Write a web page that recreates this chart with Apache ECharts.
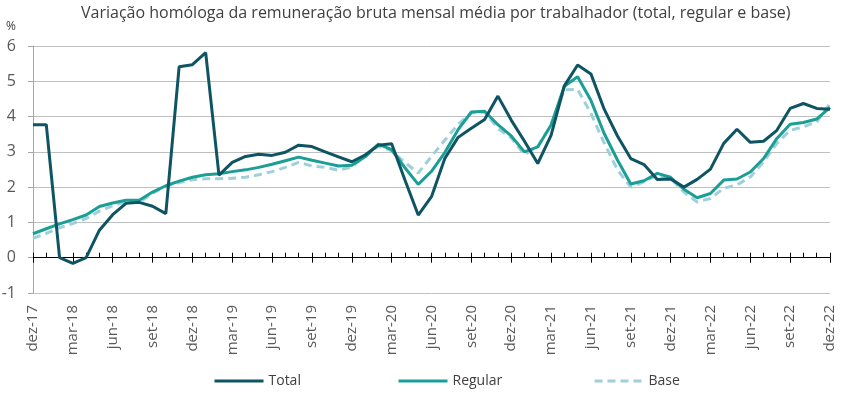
<!DOCTYPE html>
<html>
<head>
<meta charset="utf-8">
<script src="https://cdn.jsdelivr.net/npm/echarts@6/dist/echarts.min.js"></script>
<style>
  html, body { margin: 0; padding: 0; background: #fff; }
  #chart { width: 850px; height: 396px; }
</style>
</head>
<body>
<div id="chart"></div>
<script>
// months dez-17 .. dez-22
const categories = [
  'dez-17',
  'jan-18', 'fev-18', 'mar-18', 'abr-18', 'mai-18', 'jun-18', 'jul-18', 'ago-18', 'set-18', 'out-18', 'nov-18', 'dez-18',
  'jan-19', 'fev-19', 'mar-19', 'abr-19', 'mai-19', 'jun-19', 'jul-19', 'ago-19', 'set-19', 'out-19', 'nov-19', 'dez-19',
  'jan-20', 'fev-20', 'mar-20', 'abr-20', 'mai-20', 'jun-20', 'jul-20', 'ago-20', 'set-20', 'out-20', 'nov-20', 'dez-20',
  'jan-21', 'fev-21', 'mar-21', 'abr-21', 'mai-21', 'jun-21', 'jul-21', 'ago-21', 'set-21', 'out-21', 'nov-21', 'dez-21',
  'jan-22', 'fev-22', 'mar-22', 'abr-22', 'mai-22', 'jun-22', 'jul-22', 'ago-22', 'set-22', 'out-22', 'nov-22', 'dez-22'
];

const total = [
  3.77,
  3.77, 0.00, -0.16, 0.00, 0.78, 1.22, 1.54, 1.57, 1.46, 1.25, 5.41, 5.47,
  5.81, 2.34, 2.70, 2.87, 2.93, 2.90, 2.99, 3.19, 3.15, 3.00, 2.86, 2.72,
  2.91, 3.19, 3.23, 2.20, 1.21, 1.73, 2.81, 3.41, 3.67, 3.92, 4.58, 3.90,
  3.30, 2.67, 3.47, 4.87, 5.46, 5.21, 4.21, 3.45, 2.81, 2.64, 2.22, 2.23,
  2.00, 2.22, 2.51, 3.24, 3.64, 3.27, 3.30, 3.61, 4.23, 4.37, 4.23, 4.21
];

const regular = [
  0.68,
  0.82, 0.96, 1.08, 1.21, 1.45, 1.55, 1.63, 1.63, 1.86, 2.04, 2.17, 2.28,
  2.35, 2.38, 2.44, 2.49, 2.56, 2.65, 2.75, 2.85, 2.76, 2.68, 2.60, 2.62,
  2.86, 3.22, 3.06, 2.55, 2.08, 2.45, 2.98, 3.63, 4.13, 4.15, 3.77, 3.45,
  3.00, 3.14, 3.76, 4.86, 5.13, 4.46, 3.52, 2.77, 2.09, 2.18, 2.39, 2.28,
  1.94, 1.70, 1.82, 2.20, 2.23, 2.43, 2.81, 3.38, 3.78, 3.83, 3.93, 4.26
];

const base = [
  0.55,
  0.69, 0.85, 0.97, 1.11, 1.32, 1.47, 1.59, 1.56, 1.83, 2.02, 2.13, 2.21,
  2.24, 2.24, 2.25, 2.28, 2.35, 2.44, 2.56, 2.70, 2.60, 2.56, 2.48, 2.57,
  2.87, 3.16, 3.03, 2.70, 2.40, 2.87, 3.33, 3.78, 4.10, 4.13, 3.66, 3.40,
  2.92, 3.16, 3.75, 4.76, 4.77, 4.09, 3.25, 2.49, 2.00, 2.15, 2.34, 2.25,
  1.86, 1.58, 1.68, 1.97, 2.06, 2.29, 2.72, 3.24, 3.61, 3.71, 3.85, 4.37
];

const seriesNames = ['Total', 'Regular', 'Base'];
const legendLefts = [208, 392, 588];

const FONT = 'Open Sans';
const gridBox = { left: 33, right: 20, top: 46, bottom: 103, outerBoundsMode: 'none' };

const makeLegend = (name, left) => ({
  data: [name],
  bottom: 3,
  left: left,
  itemWidth: 49,
  itemHeight: 14,
  itemStyle: { opacity: 0 },
  lineStyle: { width: 3 },
  textStyle: { fontFamily: FONT, fontSize: 14, color: '#404040' }
});

const chart = echarts.init(document.getElementById('chart'));
chart.setOption({
  animation: false,
  textStyle: { fontFamily: FONT },
  title: {
    text: 'Variação homóloga da remuneração bruta mensal média por trabalhador (total, regular e base)',
    left: 76,
    top: 0,
    textStyle: { fontFamily: FONT, fontSize: 16, fontWeight: 'normal', color: '#404040' }
  },
  legend: seriesNames.map((n, i) => makeLegend(n, legendLefts[i])),
  grid: [gridBox, Object.assign({}, gridBox)],
  xAxis: [
    {
      type: 'category',
      gridIndex: 0,
      data: categories,
      boundaryGap: false,
      position: 'bottom',
      axisLine: { show: false, onZero: false },
      axisTick: { show: false },
      axisLabel: {
        interval: 2,
        rotate: 90,
        margin: 12,
        fontSize: 15,
        color: '#595959',
        fontFamily: FONT
      }
    },
    {
      type: 'category',
      gridIndex: 0,
      data: categories,
      boundaryGap: false,
      position: 'top',
      axisLine: { show: true, onZero: true, lineStyle: { color: '#000', width: 1 } },
      axisTick: { show: true, interval: 0, length: 5, lineStyle: { color: '#000' } },
      axisLabel: { show: false }
    },
    {
      type: 'category',
      gridIndex: 1,
      data: categories,
      boundaryGap: false,
      position: 'bottom',
      axisLine: { show: true, onZero: true, lineStyle: { color: '#000', width: 1 } },
      axisTick: { show: true, interval: 2, length: 5, lineStyle: { color: '#000' } },
      axisLabel: { show: false }
    }
  ],
  yAxis: [
    {
      type: 'value',
      gridIndex: 0,
      min: -1,
      max: 6,
      interval: 1,
      name: '%',
      nameLocation: 'end',
      nameGap: 13,
      nameTextStyle: { fontFamily: FONT, fontSize: 12, color: '#404040', align: 'right', padding: [0, 17, 0, 0] },
      axisLine: { show: true, lineStyle: { color: '#a6a6a6' } },
      axisTick: { show: true, length: 5, lineStyle: { color: '#a6a6a6' } },
      axisLabel: { margin: 17, fontSize: 16, color: '#595959', fontFamily: FONT },
      splitLine: { show: true, lineStyle: { color: '#c0c0c0', width: 1 } }
    },
    {
      type: 'value',
      gridIndex: 1,
      min: -1,
      max: 6,
      interval: 1,
      show: false
    }
  ],
  series: [
    {
      name: 'Total',
      type: 'line',
      xAxisIndex: 0,
      yAxisIndex: 0,
      data: total,
      symbol: 'none',
      z: 5,
      lineStyle: { color: '#0e5462', width: 3 },
      itemStyle: { color: '#0e5462' }
    },
    {
      name: 'Regular',
      type: 'line',
      xAxisIndex: 0,
      yAxisIndex: 0,
      data: regular,
      symbol: 'none',
      z: 4,
      lineStyle: { color: '#1a9e95', width: 3 },
      itemStyle: { color: '#1a9e95' }
    },
    {
      name: 'Base',
      type: 'line',
      xAxisIndex: 0,
      yAxisIndex: 0,
      data: base,
      symbol: 'none',
      z: 3,
      lineStyle: { color: '#9fd0da', width: 3, type: [8, 5] },
      itemStyle: { color: '#9fd0da' }
    }
  ]
});
</script>
</body>
</html>
